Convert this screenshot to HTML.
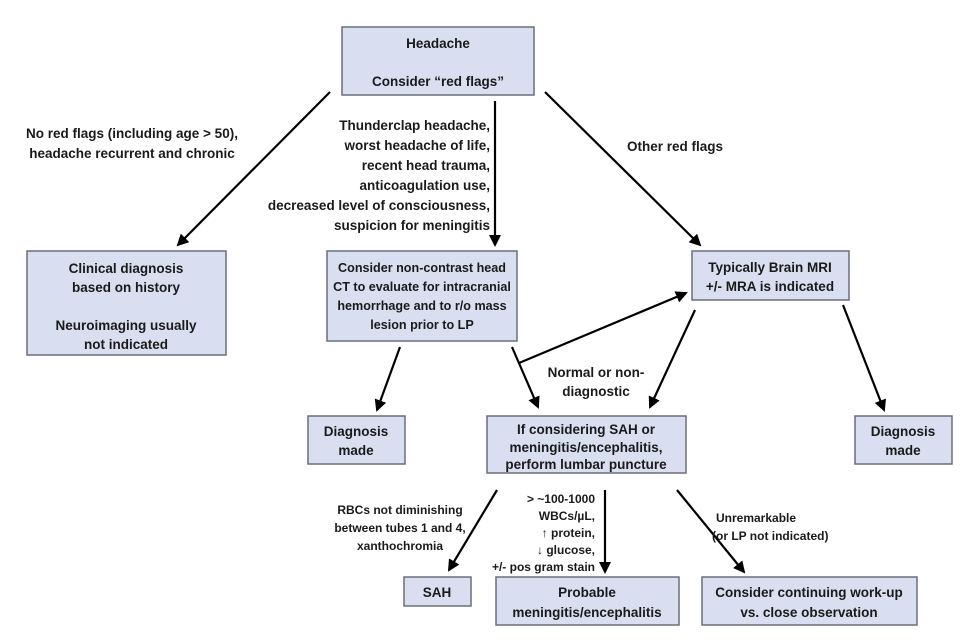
<!DOCTYPE html>
<html><head><meta charset="utf-8"><style>
html,body{margin:0;padding:0;background:#fff;}
svg{display:block;}
text{font-family:"Liberation Sans",sans-serif;font-weight:bold;font-size:13.5px;fill:#1a1a1a;text-anchor:middle;}
.s{font-size:12px;}
.c{font-size:12.6px;}
rect{fill:#d9dff0;stroke:#6b6f7a;stroke-width:1.5;}
line{stroke:#000;stroke-width:2.2;}
</style></head><body>
<svg width="968" height="641" viewBox="0 0 968 641">
<defs>
<marker id="b" markerWidth="12" markerHeight="12" refX="10" refY="6" orient="auto" markerUnits="userSpaceOnUse" viewBox="0 0 12 12"><path d="M0,0 L12,6 L0,12 Z" fill="#000"/></marker></defs>

<rect x="342" y="27" width="192" height="68"/>
<text x="438" y="48">Headache</text>
<text x="438" y="86">Consider “red flags”</text>

<rect x="27" y="251" width="199" height="104"/>
<text x="126" y="273">Clinical diagnosis</text>
<text x="126" y="292">based on history</text>
<text x="126" y="330">Neuroimaging usually</text>
<text x="126" y="349">not indicated</text>

<rect x="327" y="251" width="190" height="90"/>
<text class="c" x="422" y="272">Consider non-contrast head</text>
<text class="c" x="422" y="291">CT to evaluate for intracranial</text>
<text class="c" x="422" y="310">hemorrhage and to r/o mass</text>
<text class="c" x="422" y="329">lesion prior to LP</text>

<rect x="692" y="251" width="157" height="49"/>
<text x="770" y="272">Typically Brain MRI</text>
<text x="770" y="291">+/- MRA is indicated</text>

<rect x="308" y="416" width="97" height="48"/>
<text x="356" y="436">Diagnosis</text>
<text x="356" y="455">made</text>

<rect x="487" y="416" width="199" height="57"/>
<text x="586" y="434">If considering SAH or</text>
<text x="586" y="452">meningitis/encephalitis,</text>
<text x="586" y="469">perform lumbar puncture</text>

<rect x="855" y="416" width="97" height="48"/>
<text x="903" y="436">Diagnosis</text>
<text x="903" y="455">made</text>

<rect x="404" y="577" width="67" height="29"/>
<text x="437" y="597">SAH</text>

<rect x="496" y="577" width="183" height="48"/>
<text x="587" y="597">Probable</text>
<text x="587" y="617">meningitis/encephalitis</text>

<rect x="702" y="577" width="215" height="48"/>
<text x="809" y="597">Consider continuing work-up</text>
<text x="809" y="617">vs. close observation</text>

<line x1="330" y1="92" x2="178" y2="245" marker-end="url(#b)"/>
<line x1="495" y1="101" x2="495" y2="245" marker-end="url(#b)"/>
<line x1="545" y1="92" x2="700" y2="245" marker-end="url(#b)"/>
<line x1="400" y1="347" x2="377" y2="410" marker-end="url(#b)"/>
<line x1="512" y1="347" x2="538" y2="407" marker-end="url(#b)"/>
<line x1="519" y1="363" x2="686" y2="293" marker-end="url(#b)"/>
<line x1="695" y1="310" x2="650" y2="407" marker-end="url(#b)"/>
<line x1="843" y1="305" x2="884" y2="410" marker-end="url(#b)"/>
<line x1="497" y1="490" x2="449" y2="570" marker-end="url(#b)"/>
<line x1="605" y1="490" x2="605" y2="572" marker-end="url(#b)"/>
<line x1="677" y1="490" x2="744" y2="572" marker-end="url(#b)"/>

<text x="132" y="138">No red flags (including age &gt; 50),</text>
<text x="132" y="158">headache recurrent and chronic</text>

<text x="490" y="130" style="text-anchor:end">Thunderclap headache,</text>
<text x="490" y="150" style="text-anchor:end">worst headache of life,</text>
<text x="490" y="170" style="text-anchor:end">recent head trauma,</text>
<text x="490" y="190" style="text-anchor:end">anticoagulation use,</text>
<text x="490" y="210" style="text-anchor:end">decreased level of consciousness,</text>
<text x="490" y="230" style="text-anchor:end">suspicion for meningitis</text>

<text x="675" y="151">Other red flags</text>

<text x="596" y="377">Normal or non-</text>
<text x="596" y="396">diagnostic</text>

<text class="s" x="400" y="514">RBCs not diminishing</text>
<text class="s" x="400" y="532">between tubes 1 and 4,</text>
<text class="s" x="400" y="550">xanthochromia</text>

<text class="s" x="595" y="503" style="text-anchor:end">&gt; ~100-1000</text>
<text class="s" x="595" y="520" style="text-anchor:end">WBCs/µL,</text>
<text class="s" x="595" y="537" style="text-anchor:end">↑ protein,</text>
<text class="s" x="595" y="554" style="text-anchor:end">↓ glucose,</text>
<text class="s" x="595" y="571" style="text-anchor:end">+/- pos gram stain</text>

<text class="s" x="716" y="522" style="text-anchor:start">Unremarkable</text>
<text class="s" x="712" y="540" style="text-anchor:start">(or LP not indicated)</text>
</svg>
</body></html>
